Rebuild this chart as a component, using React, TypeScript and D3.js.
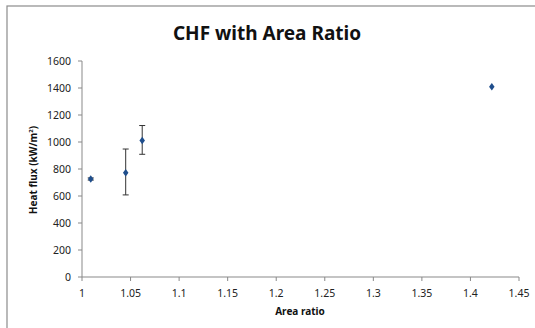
import * as d3 from "d3";

const areaRatio = [1.009, 1.045, 1.062, 1.422];
const heatFlux = [726, 773, 1012, 1410];
const errPlus = [8, 175, 110, 0];
const errMinus = [8, 165, 103, 0];
const xTicks = [1, 1.05, 1.1, 1.15, 1.2, 1.25, 1.3, 1.35, 1.4, 1.45];
const yTicks = [0, 200, 400, 600, 800, 1000, 1200, 1400, 1600];

const W = 535;
const H = 328;
const font = "'Noto Sans', 'DejaVu Sans', sans-serif";

export default function App() {
  const x = d3.scaleLinear().domain([1, 1.45]).range([82, 519]);
  const y = d3.scaleLinear().domain([0, 1600]).range([277, 61]);
  const axisColor = "#898989";
  const diamond = d3.symbol(d3.symbolDiamond, 20)() as string;

  return (
    <svg
      width={W}
      height={H}
      style={{ position: "absolute", left: 0, top: 0, background: "#fff" }}
      fontFamily={font}
    >
      <rect x={7} y={6} width={540} height={340} fill="#fff" stroke="#8c8c8c" strokeWidth={1.2} />
      <text x={267} y={40} textAnchor="middle" fontSize={19} fontWeight="bold" fill="#111">
        CHF with Area Ratio
      </text>

      {/* y axis */}
      <line x1={x(1)} x2={x(1)} y1={y(0)} y2={y(1600)} stroke={axisColor} />
      {yTicks.map((t) => (
        <g key={"y" + t}>
          <line x1={x(1) - 4} x2={x(1)} y1={y(t)} y2={y(t)} stroke={axisColor} />
          <text x={71} y={y(t)} dy="0.35em" textAnchor="end" fontSize={10.5} fill="#222">
            {t}
          </text>
        </g>
      ))}

      {/* x axis */}
      <line x1={x(1)} x2={x(1.45)} y1={y(0)} y2={y(0)} stroke={axisColor} />
      {xTicks.map((t) => (
        <g key={"x" + t}>
          <line x1={x(t)} x2={x(t)} y1={y(0)} y2={y(0) + 4} stroke={axisColor} />
          <text x={x(t)} y={297} textAnchor="middle" fontSize={10.5} fill="#222">
            {t}
          </text>
        </g>
      ))}

      <text x={300} y={315} textAnchor="middle" fontSize={10} fontWeight="bold" fill="#111">
        Area ratio
      </text>
      <text
        transform={`translate(37,170) rotate(-90)`}
        textAnchor="middle"
        fontSize={10}
        fontWeight="bold"
        fill="#111"
      >
        Heat flux (kW/m<tspan baselineShift="super" fontSize={6}>2</tspan>)
      </text>

      {/* error bars */}
      {areaRatio.map((a, i) =>
        errPlus[i] + errMinus[i] > 0 ? (
          <g key={"e" + i} stroke="#333" strokeWidth={1}>
            <line x1={x(a)} x2={x(a)} y1={y(heatFlux[i] + errPlus[i])} y2={y(heatFlux[i] - errMinus[i])} />
            <line x1={x(a) - 3} x2={x(a) + 3} y1={y(heatFlux[i] + errPlus[i])} y2={y(heatFlux[i] + errPlus[i])} />
            <line x1={x(a) - 3} x2={x(a) + 3} y1={y(heatFlux[i] - errMinus[i])} y2={y(heatFlux[i] - errMinus[i])} />
          </g>
        ) : null
      )}

      {/* points */}
      {areaRatio.map((a, i) => (
        <path key={"p" + i} d={diamond} transform={`translate(${x(a)},${y(heatFlux[i])}) scale(1.15,0.9)`} fill="#1f4e8c" />
      ))}
    </svg>
  );
}
